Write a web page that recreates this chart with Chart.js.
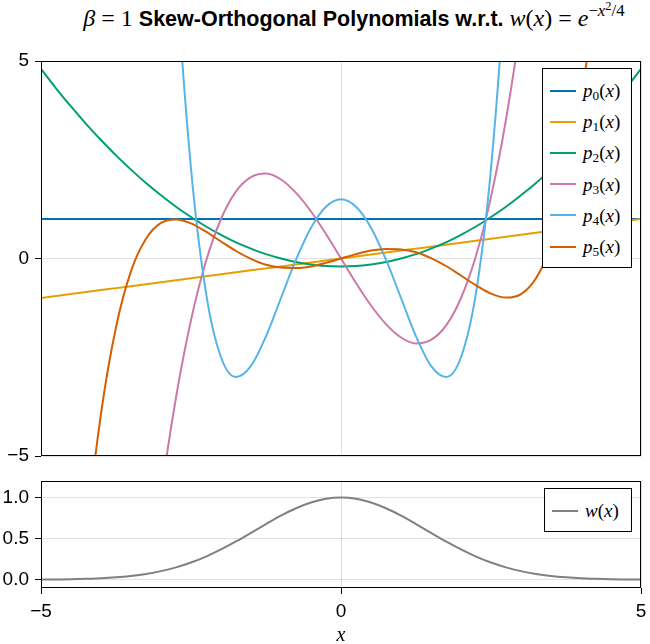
<!DOCTYPE html>
<html>
<head>
<meta charset="utf-8">
<script src="https://cdn.jsdelivr.net/npm/chart.js@4.4.1/dist/chart.umd.min.js"></script>
<style>
  html, body { margin: 0; padding: 0; background: #fff; }
  body { width: 650px; height: 644px; position: relative; overflow: hidden; }
  canvas { position: absolute; left: 0; }
  #c1 { top: 0; }
  #c2 { top: 470px; }
  #title {
    position: absolute; left: 54px; width: 600px; top: 3px;
    text-align: center; white-space: nowrap;
    font: bold 21.5px "Liberation Sans", Arial, sans-serif; line-height: 30px; color: #000;
  }
  .m { font-family: "Liberation Serif", serif; font-weight: normal; font-size: 24px; }
  .m i { font-style: italic; }
  .m sup { font-size: 0.7em; vertical-align: 0.6em; line-height: 0; }
  .m sup sup { font-size: 0.75em; vertical-align: 0.5em; }
  #xlabel {
    position: absolute; left: 41px; width: 600px; top: 624px; text-align: center;
    font: italic 20px "Liberation Serif", serif; line-height: 20px;
  }
  .legend { position: absolute; border: 1px solid #000; background: #fff; box-sizing: border-box; }
  .row { height: 31.2px; display: flex; align-items: center; }
  .ln { width: 26px; height: 2px; margin-left: 7px; margin-right: 7px; }
  .lb { font-family: "Liberation Serif", serif; font-size: 19px; line-height: 1; white-space: nowrap; }
  .lb i { font-style: italic; }
  .lb sub { font-size: 0.7em; vertical-align: -0.25em; line-height: 0; }
</style>
</head>
<body>
<div id="title"><span class="m"><i>β</i> = 1</span> Skew-Orthogonal Polynomials w.r.t. <span class="m"><i>w</i>(<i>x</i>) = <i>e</i><sup>−<i>x</i><sup>2</sup>/4</sup></span></div>
<canvas id="c1" width="650" height="470"></canvas>
<canvas id="c2" width="650" height="174"></canvas>
<div id="leg1" class="legend" style="left:542px; top:68px; width:90px; height:200px; padding-top:6px;"></div>
<div id="leg2" class="legend" style="left:544px; top:488px; width:88px; height:44px; padding-top:6px;"></div>
<div id="xlabel">x</div>
<script>
// sample positions along x
const xs = [-5, -4.75, -4.5, -4.25, -4, -3.75, -3.5, -3.25, -3, -2.75, -2.5, -2.25, -2, -1.75, -1.5, -1.25, -1, -0.75, -0.5, -0.25,
  0, 0.25, 0.5, 0.75, 1, 1.25, 1.5, 1.75, 2, 2.25, 2.5, 2.75, 3, 3.25, 3.5, 3.75, 4, 4.25, 4.5, 4.75, 5];

const p0 = [1, 1, 1, 1, 1, 1, 1, 1, 1, 1, 1, 1, 1, 1, 1, 1, 1, 1, 1, 1,
  1, 1, 1, 1, 1, 1, 1, 1, 1, 1, 1, 1, 1, 1, 1, 1, 1, 1, 1, 1, 1];
const p1 = [-1, -0.95, -0.9, -0.85, -0.8, -0.75, -0.7, -0.65, -0.6, -0.55, -0.5, -0.45, -0.4, -0.35, -0.3, -0.25, -0.2, -0.15, -0.1, -0.05,
  0, 0.05, 0.1, 0.15, 0.2, 0.25, 0.3, 0.35, 0.4, 0.45, 0.5, 0.55, 0.6, 0.65, 0.7, 0.75, 0.8, 0.85, 0.9, 0.95, 1];
const p2 = [4.8, 4.31, 3.85, 3.41, 3, 2.61, 2.25, 1.91, 1.6, 1.31, 1.05, 0.81, 0.6, 0.41, 0.25, 0.11, 0, -0.09, -0.15, -0.19,
  -0.2, -0.19, -0.15, -0.09, 0, 0.11, 0.25, 0.41, 0.6, 0.81, 1.05, 1.31, 1.6, 1.91, 2.25, 2.61, 3, 3.41, 3.85, 4.31, 4.8];
const p3 = [-50, -41.71, -34.31, -27.76, -22, -16.99, -12.69, -9.04, -6, -3.52, -1.56, -0.07, 1, 1.7, 2.06, 2.15, 2, 1.66, 1.19, 0.62,
  0, -0.62, -1.19, -1.66, -2, -2.15, -2.06, -1.7, -1, 0.07, 1.56, 3.52, 6, 9.04, 12.69, 16.99, 22, 27.76, 34.31, 41.71, 50];
const p4 = [239, 188.35, 145.78, 110.44, 81.5, 58.19, 39.78, 25.6, 15, 7.41, 2.28, -0.87, -2.5, -3, -2.72, -1.97, -1, -0.03, 0.78, 1.31,
  1.5, 1.31, 0.78, -0.03, -1, -1.97, -2.72, -3, -2.5, -0.87, 2.28, 7.41, 15, 25.6, 39.78, 58.19, 81.5, 110.44, 145.78, 188.35, 239];
const p5 = [-25.17, -17.43, -11.52, -7.11, -3.93, -1.74, -0.32, 0.5, 0.9, 0.99, 0.89, 0.68, 0.43, 0.19, -0.01, -0.16, -0.23, -0.24, -0.2, -0.11,
  0, 0.11, 0.2, 0.24, 0.23, 0.16, 0.01, -0.19, -0.43, -0.68, -0.89, -0.99, -0.9, -0.5, 0.32, 1.74, 3.93, 7.11, 11.52, 17.43, 25.17];
const wx = [0.002, 0.004, 0.006, 0.011, 0.018, 0.03, 0.047, 0.071, 0.105, 0.151, 0.21, 0.282, 0.368, 0.465, 0.57, 0.677, 0.779, 0.869, 0.939, 0.985,
  1, 0.985, 0.939, 0.869, 0.779, 0.677, 0.57, 0.465, 0.368, 0.282, 0.21, 0.151, 0.105, 0.071, 0.047, 0.03, 0.018, 0.011, 0.006, 0.004, 0.002];

const xTicks = [-5, 0, 5];
const yTicksTop = [-5, 0, 5];
const yTicksW = [0, 0.5, 1];
const polyNames = ['0', '1', '2', '3', '4', '5'];

const polys = [p0, p1, p2, p3, p4, p5];
const colors = ['#0072B2', '#E69F00', '#009E73', '#CC79A7', '#56B4E9', '#D55E00'];
const gridColor = 'rgba(0,0,0,0.12)';
const tickFont = { family: 'Liberation Sans', size: 19 };

const pts = ys => xs.map((x, i) => ({ x: x, y: ys[i] }));
const minus = s => String(s).replace('-', '\u2212');

// black box around the plot area (makie style)
const frame = {
  id: 'frame',
  afterDraw(chart) {
    const a = chart.chartArea, ctx = chart.ctx;
    ctx.save();
    ctx.strokeStyle = '#000';
    ctx.lineWidth = 1;
    ctx.strokeRect(Math.round(a.left) + 0.5, Math.round(a.top) + 0.5,
      Math.round(a.right - a.left) - 1, Math.round(a.bottom - a.top) - 1);
    ctx.restore();
  }
};

const setTicks = arr => ax => { ax.ticks = arr.map(v => ({ value: v })); };

var topChart = new Chart(document.getElementById('c1'), {
  type: 'line',
  data: {
    datasets: polys.map((ys, i) => ({
      label: 'p' + i,
      data: pts(ys),
      borderColor: colors[i],
      borderWidth: 2,
      pointRadius: 0,
      cubicInterpolationMode: 'monotone',
      fill: false,
      order: 5 - i
    }))
  },
  options: {
    responsive: false,
    animation: false,
    layout: { padding: { left: 0, right: 9, top: 61, bottom: 14 } },
    elements: { line: { capBezierPoints: false } },
    plugins: { legend: { display: false }, tooltip: { enabled: false } },
    scales: {
      x: {
        type: 'linear', min: -5, max: 5,
        afterBuildTicks: setTicks(xTicks),
        afterFit: ax => { ax.height = 0; ax.paddingLeft = 0; ax.paddingRight = 0; },
        ticks: { display: false },
        grid: { color: gridColor, drawTicks: false },
        border: { display: false }
      },
      y: {
        min: -5, max: 5,
        afterBuildTicks: setTicks(yTicksTop),
        afterFit: ax => { ax.width = 41; ax.paddingTop = 0; ax.paddingBottom = 0; },
        ticks: { font: tickFont, color: '#000', padding: 6, callback: v => minus(v) },
        grid: { color: gridColor, tickColor: '#000', tickLength: 6 },
        border: { display: false }
      }
    }
  },
  plugins: [frame]
});

var wChart = new Chart(document.getElementById('c2'), {
  type: 'line',
  data: {
    datasets: [{
      label: 'w',
      data: pts(wx),
      borderColor: '#808080',
      borderWidth: 2,
      pointRadius: 0,
      cubicInterpolationMode: 'monotone',
      fill: false
    }]
  },
  options: {
    responsive: false,
    animation: false,
    layout: { padding: { left: 0, right: 9, top: 11, bottom: 0 } },
    elements: { line: { capBezierPoints: false } },
    plugins: { legend: { display: false }, tooltip: { enabled: false } },
    scales: {
      x: {
        type: 'linear', min: -5, max: 5,
        afterBuildTicks: setTicks(xTicks),
        afterFit: ax => { ax.height = 56; ax.paddingLeft = 0; ax.paddingRight = 0; },
        ticks: { font: tickFont, color: '#000', padding: 6, maxRotation: 0, callback: v => minus(v) },
        grid: { color: gridColor, tickColor: '#000', tickLength: 6 },
        border: { display: false }
      },
      y: {
        min: -0.1, max: 1.2,
        afterBuildTicks: setTicks(yTicksW),
        afterFit: ax => { ax.width = 41; ax.paddingTop = 0; ax.paddingBottom = 0; },
        ticks: { font: tickFont, color: '#000', padding: 6, callback: v => v.toFixed(1) },
        grid: { color: gridColor, tickColor: '#000', tickLength: 6 },
        border: { display: false }
      }
    }
  },
  plugins: [frame]
});

// legends
function legendRow(color, labelHtml) {
  return '<div class="row"><span class="ln" style="background:' + color + '"></span>' +
    '<span class="lb">' + labelHtml + '</span></div>';
}
document.getElementById('leg1').innerHTML = polyNames.map((n, i) =>
  legendRow(colors[i], '<i>p</i><sub>' + n + '</sub>(<i>x</i>)')).join('');
document.getElementById('leg2').innerHTML = legendRow('#808080', '<i>w</i>(<i>x</i>)');
</script>
</body>
</html>
